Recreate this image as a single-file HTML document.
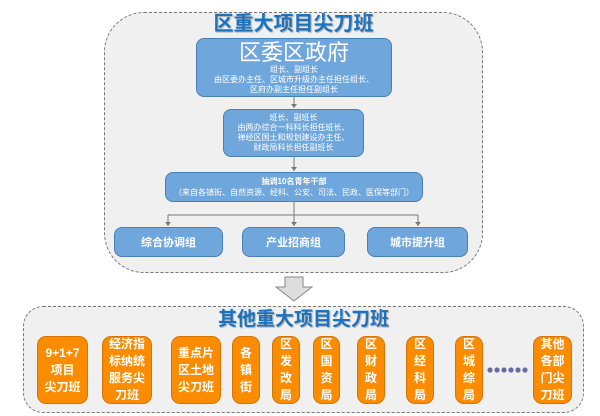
<!DOCTYPE html>
<html><head><meta charset="utf-8"><style>
body{margin:0;width:600px;height:416px;background:#fff;position:relative;overflow:hidden;font-family:"Liberation Sans","Noto Sans CJK SC",sans-serif}
.a{position:absolute;box-sizing:border-box}
.c{border:1.3px dashed #777;background:#f0f0f0}
.b{background:#6fa6dc;border:1px solid #4a7fb5;border-radius:8px;color:#fff;text-align:center;display:flex;flex-direction:column;justify-content:center;align-items:center}
.o{background:#fb8c00;border:1px solid #d77400;border-radius:9px;color:#fff;text-align:center;display:flex;align-items:center;justify-content:center;font-size:12px;line-height:17px;font-weight:bold}
.t{color:#1b73c0;font-weight:bold;text-align:center;text-shadow:1px 1px 1px #aaa}
</style></head><body>
<div class="a c" style="left:104px;top:12px;width:379px;height:261px;border-radius:40px"></div>
<div class="a t" style="left:104px;top:11px;width:379px;font-size:20px;line-height:26px">区重大项目尖刀班</div>
<svg class="a" style="left:0;top:0" width="600" height="416">
<g stroke="#777" stroke-width="1" fill="none">
<line x1="294" y1="97" x2="294" y2="108"/><line x1="294" y1="157" x2="294" y2="171"/>
<line x1="294" y1="202" x2="294" y2="226"/><line x1="168" y1="215" x2="418" y2="215"/>
<line x1="168" y1="215" x2="168" y2="226"/><line x1="418" y1="215" x2="418" y2="226"/>
</g>
<g fill="#777"><path d="M291 104l3 4 3-4z"/><path d="M291 167l3 4 3-4z"/><path d="M291 222l3 4 3-4z"/><path d="M165 222l3 4 3-4z"/><path d="M415 222l3 4 3-4z"/></g>
<path d="M285 277h18v10h9l-18 14-18-14h9z" fill="#ddd" stroke="#888"/>
</svg>
<div class="a b" style="left:196px;top:38px;width:196px;height:59px">
<div style="font-size:22px;line-height:24px">区委区政府</div>
<div style="font-size:8px;line-height:10px">组长、副组长<br>由区委办主任、区城市升级办主任担任组长、<br>区府办副主任担任副组长</div></div>
<div class="a b" style="left:223px;top:109px;width:141px;height:48px;font-size:8px;line-height:10px">班长、副班长<br>由两办综合一科科长担任班长、<br>禅经区国土和规划建设办主任、<br>财政局科长担任副班长</div>
<div class="a b" style="left:165px;top:172px;width:258px;height:30px;font-size:8px;line-height:11px"><b>抽调10名青年干部</b>（来自各镇街、自然资源、经科、公安、司法、民政、医保等部门）</div>
<div class="a b" style="left:114px;top:227px;width:109px;height:30px;font-size:11px;font-weight:bold">综合协调组</div>
<div class="a b" style="left:242px;top:227px;width:103px;height:30px;font-size:11px;font-weight:bold">产业招商组</div>
<div class="a b" style="left:367px;top:227px;width:101px;height:30px;font-size:11px;font-weight:bold">城市提升组</div>
<div class="a c" style="left:23px;top:306px;width:561px;height:107px;border-radius:20px"></div>
<div class="a t" style="left:23px;top:308px;width:561px;font-size:19px;line-height:24px">其他重大项目尖刀班</div>
<svg class="a" style="left:0;top:0" width="600" height="416">
<g fill="#6a6aa8"><circle cx="490" cy="370" r="2.6"/><circle cx="497" cy="370" r="2.6"/><circle cx="504" cy="370" r="2.6"/><circle cx="511" cy="370" r="2.6"/><circle cx="518" cy="370" r="2.6"/><circle cx="525" cy="370" r="2.6"/></g>
</svg>
<div class="a o" style="left:37px;top:336px;width:51px;height:68px">9+1+7<br>项目<br>尖刀班</div>
<div class="a o" style="left:102px;top:336px;width:50px;height:68px">经济指<br>标纳统<br>服务尖<br>刀班</div>
<div class="a o" style="left:171px;top:336px;width:50px;height:68px">重点片<br>区土地<br>尖刀班</div>
<div class="a o" style="left:232px;top:336px;width:28px;height:68px">各<br>镇<br>街</div>
<div class="a o" style="left:272px;top:336px;width:28px;height:68px">区<br>发<br>改<br>局</div>
<div class="a o" style="left:313px;top:336px;width:27px;height:68px">区<br>国<br>资<br>局</div>
<div class="a o" style="left:357px;top:336px;width:28px;height:68px">区<br>财<br>政<br>局</div>
<div class="a o" style="left:406px;top:336px;width:28px;height:68px">区<br>经<br>科<br>局</div>
<div class="a o" style="left:455px;top:336px;width:28px;height:68px">区<br>城<br>综<br>局</div>
<div class="a o" style="left:533px;top:336px;width:39px;height:68px">其他<br>各部<br>门尖<br>刀班</div>
</body></html>
